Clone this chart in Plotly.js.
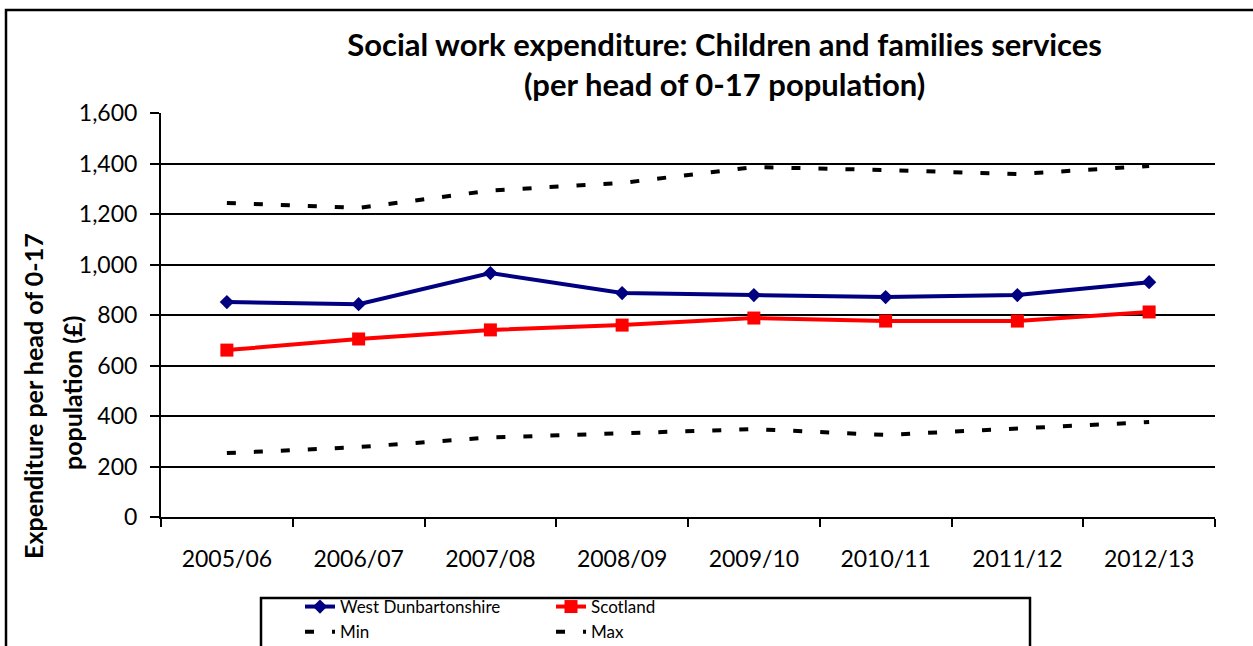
<!DOCTYPE html>
<html>
<head>
<meta charset="utf-8">
<script src="https://cdn.plot.ly/plotly-3.0.1.min.js"></script>
<style>html,body{margin:0;padding:0;background:#fff;}#chart{width:1253px;height:646px;}</style>
</head>
<body>
<div id="chart"></div>
<script>
const categories = ["2005/06","2006/07","2007/08","2008/09","2009/10","2010/11","2011/12","2012/13"];
const westDunbartonshire = [851, 843, 966, 887, 879, 871, 879, 930];
const scotland = [661, 705, 741, 760, 788, 776, 776, 812];
const minValues = [253, 277, 315, 333, 348, 325, 352, 376];
const maxValues = [1244, 1224, 1293, 1323, 1386, 1374, 1358, 1390];

const FONT = "Lato, 'Open Sans', sans-serif";

const traces = [
  {x: categories, y: westDunbartonshire, name: "West Dunbartonshire", type: "scatter", mode: "lines+markers",
   legend: "legend", line: {color: "#000080", width: 4}, marker: {symbol: "diamond", size: 11, color: "#000080"}},
  {x: categories, y: scotland, name: "Scotland", type: "scatter", mode: "lines+markers",
   legend: "legend2", line: {color: "#ff0000", width: 4}, marker: {symbol: "square", size: 13, color: "#ff0000"}},
  {x: categories, y: minValues, name: "Min", type: "scatter", mode: "lines",
   legend: "legend", line: {color: "#000000", width: 4, dash: "9px,18px"}},
  {x: categories, y: maxValues, name: "Max", type: "scatter", mode: "lines",
   legend: "legend2", line: {color: "#000000", width: 4, dash: "9px,18px"}}
];

const W = 1253, H = 646;
const L = 161, R = 1215, T = 113, B = 517;
const pw = R - L, ph = B - T;
const px = v => (v - L) / pw;
const py = v => (B - v) / ph;

const legendBase = {
  orientation: "v", xanchor: "left", y: py(589), yanchor: "top",
  borderwidth: 0, bgcolor: "rgba(0,0,0,0)",
  font: {family: FONT, size: 17, color: "#000"}, traceorder: "normal", tracegroupgap: 0
};

const layout = {
  width: W, height: H,
  margin: {l: L, r: W - R, t: T, b: H - B, pad: 0, autoexpand: false},
  paper_bgcolor: "#fff", plot_bgcolor: "#fff",
  font: {family: FONT, color: "#000", size: 21},
  showlegend: true,
  title: {
    text: "<b>Social work expenditure: Children and families services<br>(per head of 0-17 population)</b>",
    font: {family: FONT, size: 31, color: "#000"},
    x: 670 / W, xanchor: "center", xref: "paper",
    y: 1 - 55.5 / H, yanchor: "middle", yref: "container"
  },
  xaxis: {
    type: "category", range: [-0.5, 7.5], tickson: "boundaries",
    showgrid: false, showline: true, linecolor: "#000", linewidth: 2,
    ticks: "outside", ticklen: 8, tickwidth: 2, tickcolor: "#000", ticklabelstandoff: 20,
    tickfont: {family: FONT, size: 23, color: "#000"}, zeroline: false, fixedrange: true
  },
  yaxis: {
    range: [0, 1600], dtick: 200, tickformat: ",d",
    showgrid: true, gridcolor: "#000", gridwidth: 2,
    showline: true, linecolor: "#000", linewidth: 2,
    ticks: "outside", ticklen: 9, tickwidth: 2, tickcolor: "#000", ticklabelstandoff: 8,
    tickfont: {family: FONT, size: 23, color: "#000"}, zeroline: false, fixedrange: true
  },
  legend: Object.assign({}, legendBase, {x: px(300)}),
  legend2: Object.assign({}, legendBase, {x: px(551)}),
  annotations: [
    {text: "<b>Expenditure per head of 0-17</b>", textangle: -90, xref: "paper", yref: "paper",
     x: px(33), y: py(396), xanchor: "center", yanchor: "middle", showarrow: false,
     font: {family: FONT, size: 25, color: "#000"}},
    {text: "<b>population (£)</b>", textangle: -90, xref: "paper", yref: "paper",
     x: px(72), y: py(393), xanchor: "center", yanchor: "middle", showarrow: false,
     font: {family: FONT, size: 25, color: "#000"}}
  ],
  shapes: [
    {type: "rect", xref: "paper", yref: "paper", x0: px(6), x1: px(1275), y0: py(10), y1: py(700),
     line: {color: "#000", width: 2.5}, fillcolor: "rgba(0,0,0,0)", layer: "above"},
    {type: "rect", xref: "paper", yref: "paper", x0: px(261), x1: px(1030), y0: py(598), y1: py(700),
     line: {color: "#000", width: 2.5}, fillcolor: "rgba(0,0,0,0)", layer: "below"}
  ]
};

Plotly.newPlot("chart", traces, layout, {displayModeBar: false, staticPlot: true});
</script>
</body>
</html>
